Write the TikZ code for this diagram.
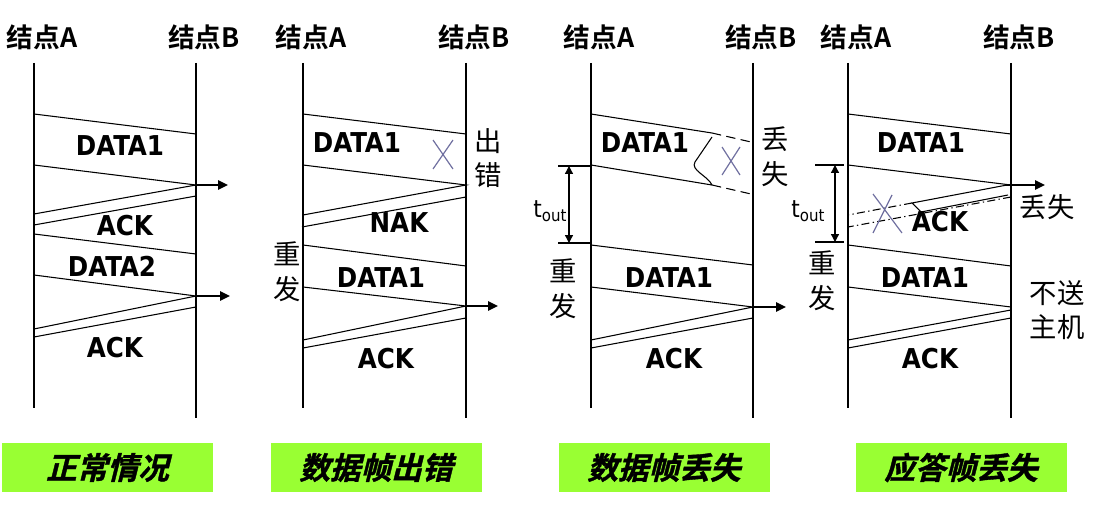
\documentclass[tikz,border=0pt]{standalone}
\usepackage{fontspec}
\usetikzlibrary{arrows.meta}
\setmainfont{DejaVu Sans Condensed}
\newfontfamily\cjk{Noto Sans CJK SC}
\newfontfamily\cjkbf{Noto Sans CJK SC Bold}
\newfontfamily\cjkit{Noto Sans CJK SC Bold}[FakeSlant=0.25,FakeBold=1.2]
\definecolor{tagreen}{RGB}{153,255,51}
\definecolor{crossblue}{RGB}{112,112,160}

\begin{document}
\begin{tikzpicture}[x=0.75pt,y=-0.75pt,
  life/.style={line width=1.5pt},
  frame/.style={line width=0.8pt},
  lost/.style={frame,dash pattern=on 7pt off 4pt},
  dashdot/.style={frame,dash pattern=on 6pt off 2.5pt on 1pt off 2.5pt},
  fwd/.style={line width=1.5pt,-{Triangle[length=7.5pt,width=7pt]}},
  span/.style={line width=1pt,{Triangle[length=6pt,width=6pt]}-{Triangle[length=6pt,width=6pt]}},
  cross/.style={crossblue,line width=0.9pt},
  head/.style={font=\cjkbf\fontsize{20}{20}\selectfont},
  lbl/.style={font=\bfseries\fontsize{20.5}{20.5}\selectfont},
  note/.style={font=\cjk\fontsize{20.5}{26}\selectfont,align=center},
  tout/.style={font=\fontsize{18}{18}\selectfont},
  tag/.style={fill=tagreen,minimum width=158.25pt,minimum height=36.75pt,font=\cjkit\fontsize{23}{23}\selectfont}]
\useasboundingbox (0,0) rectangle (1108,510);
% lifelines and headers
\foreach \a/\b [count=\i] in {34/196,303/466,591/753,848/1011}{
  \draw[life] (\a,63) -- (\a,408);
  \draw[life] (\b,63) -- (\b,418);
  \node[head] (nA\i) at (\a+8,37) {结点A};
  \node[head] (nB\i) at (\b+8,37) {结点B};
}
% normal case
\draw[frame] (34,114) -- (196,134) (34,165) -- (196,185) -- (34,214) (196,196) -- (34,225);
\draw[frame] (34,234) -- (196,254) (34,275) -- (196,296) -- (34,329) (196,307) -- (34,337);
\draw[fwd] (196,185) -- (228,185);
\draw[fwd] (196,296) -- (230,296);
\node[lbl] (d11) at (120,146) {DATA1};
\node[lbl] (a11) at (125,226) {ACK};
\node[lbl] (d12) at (112,266) {DATA2};
\node[lbl] (a12) at (115,348) {ACK};
% data frame error
\draw[frame] (303,114) -- (466,134) (303,165) -- (466,185) -- (303,215) (466,197) -- (302,227);
\draw[frame] (303,245) -- (466,266) (303,287) -- (466,306) -- (303,340) (466,318) -- (303,348);
\draw[fwd] (466,306) -- (498,306);
\draw[cross] (433,140) -- (453,169) (453,140) -- (433,169);
\node[lbl] (d21) at (357,143) {DATA1};
\node[lbl] (k21) at (399,223) {NAK};
\node[lbl] (d22) at (381,278) {DATA1};
\node[lbl] (a21) at (386,359) {ACK};
\node[note] (e2) at (488,158) {出\\错};
\node[note] (r2) at (287,272) {重\\发};
% data frame lost
\draw[frame] (591,114) -- (712,133) (591,165) -- (712,185);
\draw[lost] (712,133) -- (751,142) (712,185) -- (751,194);
\draw[frame] (712,137) -- (695,162) .. controls (690,170) and (708,176) .. (712,185);
\draw[cross] (722,147) -- (740,175) (740,147) -- (722,175);
\draw[frame] (558,166) -- (591,166) (558,243) -- (591,243);
\draw[span] (569,166) -- (569,243);
\draw[frame] (591,245) -- (753,265) (591,287) -- (753,307) -- (591,340) (753,318) -- (591,348);
\draw[fwd] (753,307) -- (786,307);
\node[lbl] (d31) at (645,143) {DATA1};
\node[lbl] (d32) at (669,278) {DATA1};
\node[lbl] (a31) at (674,359) {ACK};
\node[note] (l3) at (775,157) {丢\\失};
\node[note] (r3) at (563,289) {重\\发};
\node[tout] (to3) at (550,211) {t\raisebox{-0.3ex}{\fontsize{12.5}{12.5}\selectfont out}};
% ack frame lost
\draw[frame] (848,114) -- (1011,134) (848,165) -- (1011,185);
\draw[fwd] (1005,185) -- (1045,185);
\draw[frame] (1007,185) -- (912,203) -- (921,212) -- (1008,195);
\draw[dashdot] (912,203) -- (848,215) (1011,197) -- (848,227);
\draw[cross] (873,194) -- (902,233) (892,195) -- (873,233);
\draw[frame] (815,165) -- (844,165) (815,242) -- (844,242);
\draw[span] (835,165) -- (835,242);
\draw[frame] (848,245) -- (1011,266) (848,287) -- (1011,307) (1011,310) -- (848,340) (1011,318) -- (848,348);
\node[lbl] (d41) at (921,143) {DATA1};
\node[lbl] (a41) at (940,222) {ACK};
\node[lbl] (d42) at (925,278) {DATA1};
\node[lbl] (a42) at (930,359) {ACK};
\node[note] (l4) at (1047,207) {丢失};
\node[note] (h4) at (1057,310) {不送\\主机};
\node[note] (r4) at (822,281) {重\\发};
\node[tout] (to4) at (808,211) {t\raisebox{-0.3ex}{\fontsize{12.5}{12.5}\selectfont out}};
% case tags
\node[tag] (t1) at (107.5,467.5) {正常情况};
\node[tag] (t2) at (376,467.5) {数据帧出错};
\node[tag] (t3) at (664,467.5) {数据帧丢失};
\node[tag] (t4) at (961,467.5) {应答帧丢失};
\end{tikzpicture}
\end{document}
